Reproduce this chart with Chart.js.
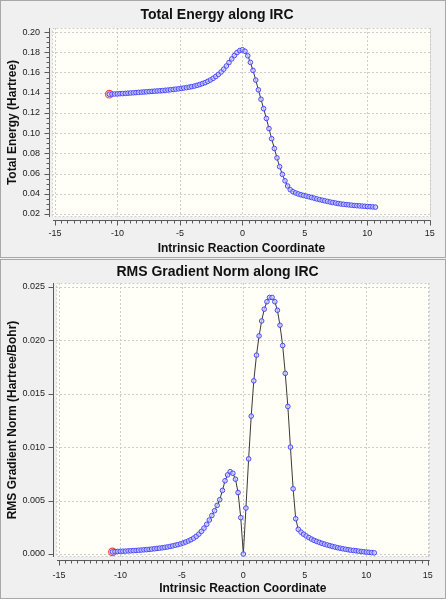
<!DOCTYPE html>
<html>
<head>
<meta charset="utf-8">
<title>IRC</title>
<script src="https://cdn.jsdelivr.net/npm/chart.js@4.4.0/dist/chart.umd.min.js"></script>
<style>
  html, body { margin: 0; padding: 0; background: #f0f0f0; }
  #wrap { position: relative; width: 446px; height: 599px; overflow: hidden; }
  canvas { position: absolute; left: 0; }
  #energyChart { top: 0; }
  #gradChart { top: 258px; }
  .panel { position: absolute; left: 0; width: 444px; border: 1px solid #a8a8a8; pointer-events: none; }
  #p1 { top: 0; height: 256px; }
  #p2 { top: 259px; height: 338px; }
</style>
</head>
<body>
<div id="wrap">
  <canvas id="energyChart" width="446" height="258"></canvas>
  <canvas id="gradChart" width="446" height="341"></canvas>
  <div class="panel" id="p1"></div>
  <div class="panel" id="p2"></div>
</div>
<script>
// reaction coordinate of each IRC point
const irc = [
  -10.65, -10.44, -10.22, -10.01, -9.80, -9.59, -9.37, -9.16, -8.95, -8.73,
  -8.52, -8.31, -8.09, -7.88, -7.67, -7.46, -7.24, -7.03, -6.82, -6.60,
  -6.39, -6.18, -5.96, -5.75, -5.54, -5.33, -5.11, -4.90, -4.69, -4.47,
  -4.26, -4.05, -3.83, -3.62, -3.41, -3.20, -2.98, -2.77, -2.56, -2.34,
  -2.13, -1.92, -1.70, -1.49, -1.28, -1.07, -0.85, -0.64, -0.43, -0.21,
  0,
  0.21, 0.43, 0.64, 0.85, 1.07, 1.28, 1.49, 1.70, 1.92, 2.13,
  2.34, 2.56, 2.77, 2.98, 3.20, 3.41, 3.62, 3.83, 4.05, 4.26,
  4.47, 4.69, 4.90, 5.11, 5.33, 5.54, 5.75, 5.96, 6.18, 6.39,
  6.60, 6.82, 7.03, 7.24, 7.46, 7.67, 7.88, 8.09, 8.31, 8.52,
  8.73, 8.95, 9.16, 9.37, 9.59, 9.80, 10.01, 10.22, 10.44, 10.65
];

// total energy (Hartree)
const energy = [
  0.1385, 0.1386, 0.1387, 0.1388, 0.1390, 0.1391, 0.1393, 0.1395, 0.1397, 0.1399,
  0.1401, 0.1403, 0.1405, 0.1407, 0.1409, 0.1411, 0.1413, 0.1415, 0.1417, 0.1419,
  0.1421, 0.1424, 0.1426, 0.1429, 0.1432, 0.1435, 0.1438, 0.1442, 0.1446, 0.1450,
  0.1455, 0.1460, 0.1466, 0.1473, 0.1481, 0.1490, 0.1500, 0.1512, 0.1526, 0.1542,
  0.1560, 0.1581, 0.1605, 0.1633, 0.1664, 0.1698, 0.1734, 0.1768, 0.1797, 0.1817,
  0.1825,
  0.1810, 0.1765, 0.1700, 0.1620, 0.1525, 0.1428, 0.1335, 0.1242, 0.1145, 0.1045,
  0.0945, 0.0848, 0.0755, 0.0668, 0.0592, 0.0528, 0.0477, 0.0440, 0.0420, 0.0408,
  0.0398, 0.0390, 0.0383, 0.0376, 0.0370, 0.0363, 0.0356, 0.0349, 0.0342, 0.0336,
  0.0330, 0.0324, 0.0318, 0.0313, 0.0308, 0.0303, 0.0299, 0.0296, 0.0293, 0.0290,
  0.0287, 0.0284, 0.0282, 0.0280, 0.0278, 0.0276, 0.0274, 0.0272, 0.0270, 0.0268
];

// RMS gradient norm (Hartree/Bohr)
const gradNorm = [
  0.00020, 0.00022, 0.00024, 0.00025, 0.00026, 0.00027, 0.00029, 0.00030, 0.00032, 0.00033,
  0.00035, 0.00037, 0.00039, 0.00041, 0.00043, 0.00046, 0.00049, 0.00052, 0.00055, 0.00058,
  0.00062, 0.00066, 0.00071, 0.00076, 0.00082, 0.00088, 0.00095, 0.00103, 0.00112, 0.00122,
  0.00134, 0.00148, 0.00165, 0.00186, 0.00212, 0.00242, 0.00278, 0.00318, 0.00360, 0.00405,
  0.00455, 0.00508, 0.00595, 0.00685, 0.00740, 0.00770, 0.00755, 0.00700, 0.00575, 0.00340,
  0.00000,
  0.0043, 0.0089, 0.0129, 0.0162, 0.0186, 0.0204, 0.0218, 0.0229, 0.0236, 0.0240,
  0.0240, 0.0236, 0.0228, 0.0214, 0.0195, 0.0169, 0.0138, 0.0100, 0.0061, 0.0033,
  0.00231, 0.00205, 0.00185, 0.00169, 0.00154, 0.00140, 0.00128, 0.00118, 0.00109, 0.00100,
  0.00092, 0.00085, 0.00078, 0.00071, 0.00065, 0.00059, 0.00054, 0.00049, 0.00044, 0.00040,
  0.00036, 0.00033, 0.00030, 0.00027, 0.00024, 0.00021, 0.00018, 0.00016, 0.00013, 0.00011
];

const xTicks = [-15, -10, -5, 0, 5, 10, 15];
const energyTicks = [0.02, 0.04, 0.06, 0.08, 0.10, 0.12, 0.14, 0.16, 0.18, 0.20];
const gradTicks = [0.000, 0.005, 0.010, 0.015, 0.020, 0.025];

const FONT = '"Liberation Sans", Arial, sans-serif';

// plot background, dashed grid, detached axis lines with minor ticks
const frame = {
  id: 'frame',
  beforeDatasetsDraw(chart, args, opts) {
    const { ctx, chartArea: a, scales: { x, y } } = chart;
    ctx.save();
    ctx.fillStyle = '#fffff8';
    ctx.fillRect(a.left, a.top, a.right - a.left, a.bottom - a.top);
    ctx.strokeStyle = '#cdcdcd';
    ctx.lineWidth = 1;
    ctx.setLineDash([2, 2]);
    ctx.beginPath();
    x.ticks.forEach(t => {
      const px = Math.round(x.getPixelForValue(t.value)) + 0.5;
      ctx.moveTo(px, a.top); ctx.lineTo(px, a.bottom);
    });
    y.ticks.forEach(t => {
      const py = Math.round(y.getPixelForValue(t.value)) + 0.5;
      ctx.moveTo(a.left, py); ctx.lineTo(a.right, py);
    });
    ctx.rect(Math.round(a.left) + 0.5, Math.round(a.top) + 0.5,
      Math.round(a.right - a.left) - 1, Math.round(a.bottom - a.top) - 1);
    ctx.stroke();
    ctx.restore();
  },
  afterDraw(chart, args, opts) {
    const { ctx, chartArea: a, scales: { x, y } } = chart;
    const gap = opts.gap;
    const ax = Math.round(a.left - gap) + 0.5;
    const ay = Math.round(a.bottom + gap) + 0.5;
    ctx.save();
    ctx.strokeStyle = '#5a5a5a';
    ctx.lineWidth = 1;
    ctx.beginPath();
    ctx.moveTo(ax, a.top); ctx.lineTo(ax, a.bottom);
    ctx.moveTo(a.left + 1, ay); ctx.lineTo(a.right, ay);
    // x ticks
    const x0 = xTicks[0], x1 = xTicks[xTicks.length - 1];
    const nx = Math.round((x1 - x0) / opts.xMinor);
    const xMajorEvery = Math.round((xTicks[1] - xTicks[0]) / opts.xMinor);
    for (let k = 0; k <= nx; k++) {
      const px = Math.round(x.getPixelForValue(x0 + k * opts.xMinor)) + 0.5;
      const len = k % xMajorEvery === 0 ? 5 : 3;
      ctx.moveTo(px, ay); ctx.lineTo(px, ay + len);
    }
    // y ticks
    const yt = y.ticks.map(t => t.value);
    if (opts.yMinor) {
      const y0 = yt[0], y1 = yt[yt.length - 1];
      const ny = Math.round((y1 - y0) / opts.yMinor);
      const yMajorEvery = Math.round((yt[1] - yt[0]) / opts.yMinor);
      for (let k = 0; k <= ny; k++) {
        const py = Math.round(y.getPixelForValue(y0 + k * opts.yMinor)) + 0.5;
        const len = k % yMajorEvery === 0 ? 5 : 3;
        ctx.moveTo(ax, py); ctx.lineTo(ax - len, py);
      }
    } else {
      yt.forEach(v => {
        const py = Math.round(y.getPixelForValue(v)) + 0.5;
        ctx.moveTo(ax, py); ctx.lineTo(ax - 5, py);
      });
    }
    ctx.stroke();
    ctx.restore();
  }
};

function makeChart(id, cfg) {
  const pts = irc.map((v, i) => ({ x: v, y: cfg.values[i] }));
  return new Chart(document.getElementById(id), {
    type: 'scatter',
    data: {
      datasets: [
        {
          data: [pts[0]],
          showLine: false,
          pointRadius: 3.8,
          pointBorderWidth: 1.2,
          pointBorderColor: '#ff4848',
          pointBackgroundColor: 'rgba(255,190,190,0.6)',
          order: 2
        },
        {
          data: pts,
          showLine: true,
          borderColor: '#3a3a3a',
          borderWidth: 1,
          tension: 0,
          pointRadius: 2.3,
          pointBorderWidth: 1,
          pointBorderColor: '#4848ff',
          pointBackgroundColor: 'rgba(210,210,255,0.7)',
          order: 1
        }
      ]
    },
    options: {
      responsive: false,
      animation: false,
      layout: { padding: { right: cfg.padRight } },
      plugins: {
        legend: { display: false },
        tooltip: { enabled: false },
        title: {
          display: true,
          text: cfg.title,
          color: '#111',
          font: { family: FONT, size: 14, weight: 'bold' },
          padding: cfg.titlePad
        },
        frame: { gap: 3, xMinor: 0.5, yMinor: cfg.yMinor }
      },
      scales: {
        x: {
          type: 'linear',
          min: cfg.xMin,
          max: cfg.xMax,
          afterBuildTicks: s => { s.ticks = xTicks.map(v => ({ value: v })); },
          afterFit: s => { s.height = cfg.xHeight; },
          grid: { display: false, drawTicks: false },
          border: { display: false },
          ticks: {
            color: '#222',
            font: { family: FONT, size: 9 },
            padding: cfg.xTickPad,
            maxRotation: 0,
            callback: v => String(v)
          },
          title: {
            display: true,
            text: 'Intrinsic Reaction Coordinate',
            color: '#111',
            font: { family: FONT, size: 12, weight: 'bold' },
            padding: { top: 0, bottom: cfg.xTitlePad }
          }
        },
        y: {
          type: 'linear',
          min: cfg.yMin,
          max: cfg.yMax,
          afterBuildTicks: s => { s.ticks = cfg.yTicks.map(v => ({ value: v })); },
          afterFit: s => { s.width = cfg.yWidth; },
          grid: { display: false, drawTicks: false },
          border: { display: false },
          ticks: {
            color: '#222',
            font: { family: FONT, size: 9 },
            padding: cfg.yTickPad,
            callback: v => v.toFixed(cfg.decimals)
          },
          title: {
            display: true,
            text: cfg.yTitle,
            color: '#111',
            font: { family: FONT, size: 12, weight: 'bold' },
            padding: { top: 5.8, bottom: 0 }
          }
        }
      }
    },
    plugins: [frame]
  });
}

makeChart('energyChart', {
  title: 'Total Energy along IRC',
  yTitle: 'Total Energy (Hartree)',
  values: energy,
  yTicks: energyTicks,
  decimals: 2,
  yMinor: 0.005,
  xMin: -15.24, xMax: 15.08,
  yMin: 0.017, yMax: 0.204,
  padRight: 12,
  titlePad: { top: 6.6, bottom: 4.6 },
  xHeight: 41, yWidth: 52,
  xTickPad: 11.2, xTitlePad: 2.2, yTickPad: 12
});

makeChart('gradChart', {
  title: 'RMS Gradient Norm along IRC',
  yTitle: 'RMS Gradient Norm (Hartree/Bohr)',
  values: gradNorm,
  yTicks: gradTicks,
  decimals: 3,
  yMinor: null,
  xMin: -15.24, xMax: 15.16,
  yMin: -0.00028, yMax: 0.02535,
  padRight: 11,
  titlePad: { top: 5.4, bottom: 2.8 },
  xHeight: 42, yWidth: 56,
  xTickPad: 13.2, xTitlePad: 3.2, yTickPad: 11
});
</script>
</body>
</html>
